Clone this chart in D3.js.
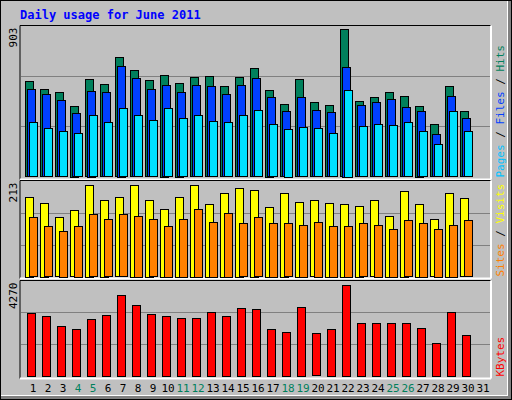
<!DOCTYPE html>
<html><head><meta charset="utf-8">
<script src="https://cdn.jsdelivr.net/npm/d3@7"></script>
<style>body{margin:0;background:#fff}</style>
</head><body><svg id="c"></svg>
<script>
var days = d3.range(1, 32);
var weekends = [4, 5, 11, 12, 18, 19, 25, 26];
var hits = [585,536,517,432,597,566,732,652,591,622,573,609,615,554,609,664,530,444,597,456,438,903,462,487,517,493,432,321,554,401,0];
var files = [536,505,468,389,524,517,677,603,536,560,517,560,554,505,560,603,487,401,487,407,395,671,438,456,474,425,401,260,493,358,0];
var pages = [333,297,278,266,376,333,419,376,346,419,356,376,340,333,376,407,321,291,303,297,266,530,309,321,315,333,278,199,401,278,0];
var visits = [185,171,137,153,213,178,183,213,178,157,185,213,169,194,206,201,162,194,173,176,171,169,164,176,141,199,169,132,194,181,0];
var sites = [137,116,106,118,144,132,144,141,132,118,134,157,127,148,123,137,125,123,120,127,118,118,123,120,111,130,125,111,120,130,0];
var kbytes = [2955,2815,2346,2205,2674,2861,3799,3330,2908,2815,2721,2721,3002,2815,3190,3143,2205,2064,3237,1971,2205,4270,2486,2486,2486,2486,2252,1548,3002,1923,0];

var W = 512, H = 400;
var mono = "'DejaVu Sans Mono', monospace";
var svg = d3.select('#c').attr('width', W).attr('height', H);

// background with 3d edge
svg.append('rect').attr('width', W).attr('height', H).attr('fill', '#808080');
svg.append('rect').attr('x', 0).attr('y', 0).attr('width', W - 4).attr('height', H - 4).attr('fill', '#fff');
svg.append('rect').attr('x', 1).attr('y', 1).attr('width', W - 6).attr('height', H - 6).attr('fill', '#c0c0c0');
svg.append('rect').attr('x', 0.5).attr('y', 0.5).attr('width', W - 1).attr('height', H - 1).attr('fill', 'none').attr('stroke', '#000');

svg.append('text').attr('x', 20).attr('y', 19).attr('fill', '#0000ff')
    .attr('font-family', mono).attr('font-weight', 'bold').attr('font-size', 12)
    .text('Daily usage for June 2011');

var x = d3.scaleBand().domain(days).range([25, 25 + 31 * 15]);

function panel(top, bottom, base, max, maxPx, series, labels) {
    var y = d3.scaleLinear().domain([0, max]).range([base, base - maxPx]);
    var g = svg.append('g');
    g.append('line').attr('x1', 20).attr('x2', 491).attr('y1', top).attr('y2', top).attr('stroke', '#000');
    g.append('line').attr('x1', 20).attr('x2', 20).attr('y1', top).attr('y2', bottom).attr('stroke', '#000');
    g.append('line').attr('x1', 20).attr('x2', 491).attr('y1', bottom).attr('y2', bottom).attr('stroke', '#fff').attr('stroke-width', 2);
    g.append('line').attr('x1', 491).attr('x2', 491).attr('y1', top).attr('y2', bottom).attr('stroke', '#fff').attr('stroke-width', 2);
    [1 / 3, 2 / 3].forEach(function(f) {
        var gy = Math.round(base - (base - top) * f) + 0.5;
        g.append('line').attr('x1', 21).attr('x2', 490).attr('y1', gy).attr('y2', gy).attr('stroke', '#808080');
    });
    series.forEach(function(s) {
        g.selectAll(null).data(s.data).enter().filter(function(d) { return d > 0; })
            .append('rect')
            .attr('x', function(d, i) { return x(days[s.data.indexOf(d) >= 0 ? i : i]) ; })
            .attr('fill', s.color).attr('stroke', '#000');
    });
    // redo positions with proper indexes
    g.selectAll('rect').remove();
    series.forEach(function(s) {
        g.selectAll(null).data(days).enter().filter(function(d, i) { return s.data[i] > 0; })
            .append('rect')
            .attr('x', function(d) { return x(d) + s.off + 0.5; })
            .attr('y', function(d) { return Math.round(y(s.data[d - 1])) + 0.5; })
            .attr('width', 8)
            .attr('height', function(d) { return Math.round(base - y(s.data[d - 1])); })
            .attr('fill', s.color).attr('stroke', '#000');
    });
    svg.append('text').attr('transform', 'translate(17,' + (top + 2) + ') rotate(-90)')
        .attr('text-anchor', 'end').attr('font-family', mono).attr('font-size', 11).attr('fill', '#000')
        .text(d3.format('d')(max));
    var t = svg.append('text').attr('transform', 'translate(504,' + (bottom - 2) + ') rotate(-90)')
        .attr('font-family', mono).attr('font-size', 11);
    labels.forEach(function(l, i) {
        if (i > 0) t.append('tspan').attr('fill', '#000').text(' / ');
        t.append('tspan').attr('fill', l[1]).text(l[0]);
    });
}

panel(25.5, 179.5, 176.5, 903, 147.4,
    [{data: hits, color: '#00805c', off: 0}, {data: files, color: '#0040ff', off: 2}, {data: pages, color: '#00e0ff', off: 4}],
    [['Pages', '#00c0ff'], ['Files', '#0040ff'], ['Hits', '#00805c']]);
panel(180.5, 278.5, 276.5, 213, 92,
    [{data: visits, color: '#ffff00', off: 0}, {data: sites, color: '#ff8000', off: 4}],
    [['Sites', '#ff8000'], ['Visits', '#ffff00']]);
panel(280.5, 378.5, 375.5, 4270, 91,
    [{data: kbytes, color: '#ff0000', off: 2}],
    [['KBytes', '#ff0000']]);

svg.append('g').selectAll('text').data(days).enter().append('text')
    .attr('x', function(d) { return x(d) + 8; })
    .attr('y', 392)
    .attr('text-anchor', 'middle').attr('font-family', mono).attr('font-size', 11)
    .attr('fill', function(d) { return weekends.indexOf(d) >= 0 ? '#00805c' : '#000'; })
    .text(function(d) { return d; });
</script></body></html>
